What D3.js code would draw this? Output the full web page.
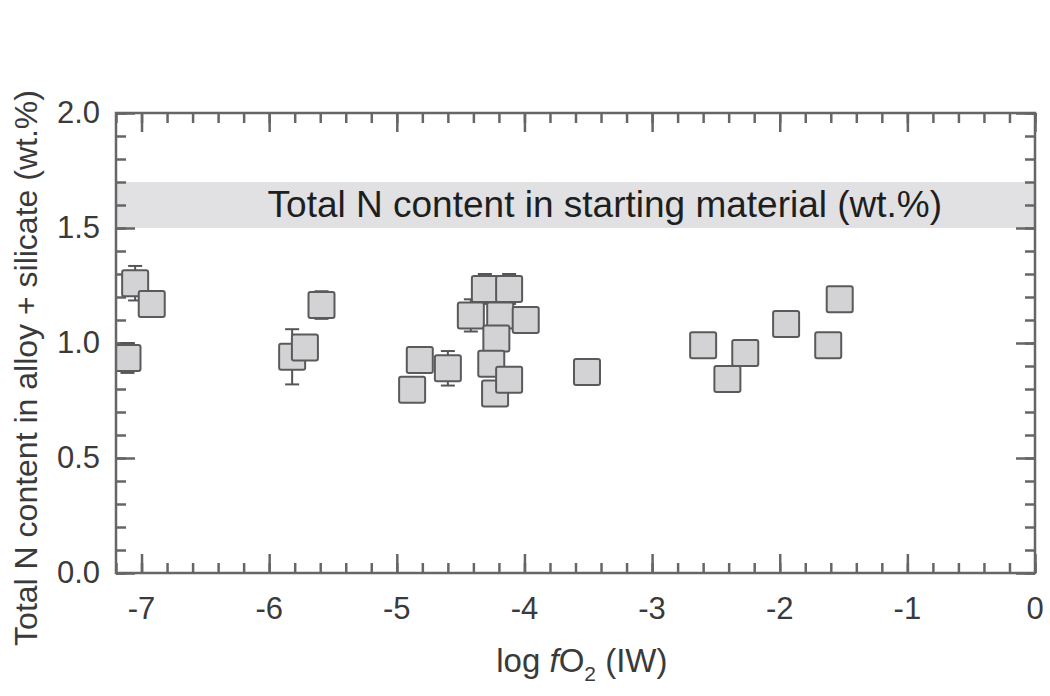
<!DOCTYPE html>
<html lang="en">
<head>
    <meta charset="UTF-8">
    <title>Total N content vs log fO2</title>
    <script src="https://d3js.org/d3.v7.min.js"></script>
    <style>
        body { margin: 0; background: #fff; }
        text { font-family: "Liberation Sans", Arial, sans-serif; fill: #3a3a3a; }
    </style>
</head>
<body>
    <div id="chart-container"></div>

    <script>
        // data
        const logFO2   = [-7.05, -6.92, -7.11, -5.82, -5.72, -5.59, -4.82, -4.88, -4.60, -4.42, -4.31, -4.12, -4.19, -3.99, -4.22, -4.26, -4.23, -4.12, -3.51, -2.60, -2.41, -2.27, -1.95, -1.62, -1.53];
        const totalN   = [1.26, 1.17, 0.935, 0.94, 0.98, 1.165, 0.926, 0.797, 0.89, 1.12, 1.235, 1.235, 1.12, 1.10, 1.02, 0.91, 0.78, 0.84, 0.874, 0.99, 0.843, 0.956, 1.083, 0.99, 1.19];
        const errN     = [0.075, 0, 0.065, 0.12, 0, 0.06, 0, 0, 0.075, 0.07, 0.065, 0.065, 0, 0, 0, 0, 0, 0, 0.055, 0, 0, 0, 0, 0, 0];
        const startBand = [1.5, 1.7];
        const xTicks = [-7, -6, -5, -4, -3, -2, -1, 0];
        const yTicks = [0.0, 0.5, 1.0, 1.5, 2.0];

        const points = logFO2.map(function(x, i) {
            return { x: x, y: totalN[i], err: errN[i] };
        });

        const margin = { top: 113, right: 15, bottom: 123, left: 116 };
        const width = 1035 - margin.left;
        const height = 573 - margin.top;
        const axisColor = "#666";

        const svg = d3.select("#chart-container")
            .append("svg")
            .attr("width", 1050)
            .attr("height", 696)
            .append("g")
            .attr("transform", "translate(" + margin.left + "," + margin.top + ")");

        const x = d3.scaleLinear().domain([-7.2, 0]).range([0, width]);
        const y = d3.scaleLinear().domain([0, 2]).range([height, 0]);

        svg.append("clipPath").attr("id", "plot-clip")
            .append("rect").attr("width", width).attr("height", height);

        // grey band
        svg.append("rect")
            .attr("x", 0)
            .attr("width", width)
            .attr("y", y(startBand[1]))
            .attr("height", y(startBand[0]) - y(startBand[1]))
            .attr("fill", "#e1e1e3");

        svg.append("text")
            .attr("x", x(-3.37))
            .attr("y", y(1.6) + 12)
            .attr("text-anchor", "middle")
            .style("font-size", "37px")
            .style("fill", "#1e1e1e")
            .text("Total N content in starting material (wt.%)");

        // ticks
        const minorX = d3.range(-7.2, 0.001, 0.2).map(function(v) { return +v.toFixed(1); });
        const minorY = d3.range(0, 2.001, 0.1).map(function(v) { return +v.toFixed(1); });

        function drawAxis(gen, values, size, transform) {
            const g = svg.append("g")
                .attr("transform", transform)
                .call(gen.tickValues(values).tickSize(size).tickFormat(""));
            g.select(".domain").remove();
            g.selectAll("line").attr("stroke", axisColor).attr("stroke-width", 2.5);
            return g;
        }

        drawAxis(d3.axisBottom(x), minorX, -10, "translate(0," + height + ")");
        drawAxis(d3.axisBottom(x), xTicks, -19, "translate(0," + height + ")");
        drawAxis(d3.axisTop(x), minorX, -10, "translate(0,0)");
        drawAxis(d3.axisTop(x), xTicks, -19, "translate(0,0)");
        drawAxis(d3.axisLeft(y), minorY, -10, "translate(0,0)");
        drawAxis(d3.axisLeft(y), yTicks, -19, "translate(0,0)");
        drawAxis(d3.axisRight(y), minorY, -10, "translate(" + width + ",0)");
        drawAxis(d3.axisRight(y), yTicks, -19, "translate(" + width + ",0)");

        // tick labels
        svg.append("g").selectAll("text")
            .data(xTicks)
            .enter().append("text")
            .attr("x", function(d) { return x(d); })
            .attr("y", height + 46)
            .attr("text-anchor", "middle")
            .style("font-size", "31px")
            .text(function(d) { return d === 0 ? "0" : "-" + Math.abs(d); });

        svg.append("g").selectAll("text")
            .data(yTicks)
            .enter().append("text")
            .attr("x", -16)
            .attr("y", function(d) { return y(d) + 10; })
            .attr("text-anchor", "end")
            .style("font-size", "31px")
            .text(function(d) { return d.toFixed(1); });

        // error bars + squares
        const plot = svg.append("g").attr("clip-path", "url(#plot-clip)");

        const bars = plot.selectAll(".err")
            .data(points.filter(function(d) { return d.err > 0; }))
            .enter().append("g")
            .attr("class", "err")
            .attr("stroke", "#555")
            .attr("stroke-width", 2);
        bars.append("line")
            .attr("x1", function(d) { return x(d.x); })
            .attr("x2", function(d) { return x(d.x); })
            .attr("y1", function(d) { return y(d.y - d.err); })
            .attr("y2", function(d) { return y(d.y + d.err); });
        bars.append("line")
            .attr("x1", function(d) { return x(d.x) - 7; })
            .attr("x2", function(d) { return x(d.x) + 7; })
            .attr("y1", function(d) { return y(d.y + d.err); })
            .attr("y2", function(d) { return y(d.y + d.err); });
        bars.append("line")
            .attr("x1", function(d) { return x(d.x) - 7; })
            .attr("x2", function(d) { return x(d.x) + 7; })
            .attr("y1", function(d) { return y(d.y - d.err); })
            .attr("y2", function(d) { return y(d.y - d.err); });

        const side = 26;
        plot.selectAll(".pt")
            .data(points)
            .enter().append("rect")
            .attr("class", "pt")
            .attr("x", function(d) { return x(d.x) - side / 2; })
            .attr("y", function(d) { return y(d.y) - side / 2; })
            .attr("width", side)
            .attr("height", side)
            .attr("rx", 2)
            .attr("fill", "#d3d3d5")
            .attr("stroke", "#5a5a5a")
            .attr("stroke-width", 2);

        // frame
        svg.append("rect")
            .attr("width", width)
            .attr("height", height)
            .attr("fill", "none")
            .attr("stroke", axisColor)
            .attr("stroke-width", 2.5);

        // axis titles
        const xt = svg.append("text")
            .attr("x", x(-3.55))
            .attr("y", height + 99)
            .attr("text-anchor", "middle")
            .style("font-size", "33px");
        xt.append("tspan").text("log ");
        xt.append("tspan").style("font-style", "italic").text("f");
        xt.append("tspan").text("O");
        xt.append("tspan").attr("dy", 9).style("font-size", "21px").text("2");
        xt.append("tspan").attr("dy", -9).text(" (IW)");

        svg.append("text")
            .attr("transform", "translate(" + (-79) + "," + (height / 2 + 25) + ") rotate(-90)")
            .attr("text-anchor", "middle")
            .style("font-size", "32px")
            .text("Total N content in alloy + silicate (wt.%)");
    </script>
</body>
</html>
